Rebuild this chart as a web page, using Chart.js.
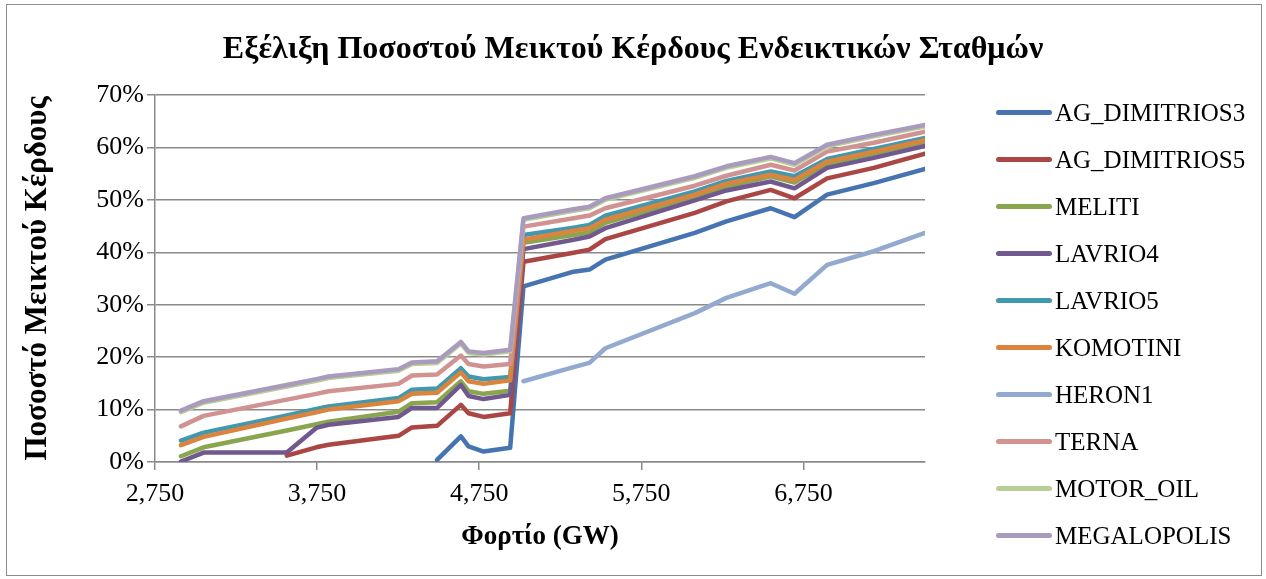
<!DOCTYPE html>
<html>
<head>
<meta charset="utf-8">
<script src="https://cdn.jsdelivr.net/npm/chart.js@4"></script>
<style>
  body { margin: 0; background: #fff; }
  #wrap { position: relative; width: 1266px; height: 579px; }
  #frame { position: absolute; left: 6px; top: 4px; width: 1254px; height: 570px; border: 1px solid #8c8c8c; }
  canvas { position: absolute; left: 0; top: 0; }
  #title { position: absolute; left: 0; top: 28px; width: 1266px; text-align: center; line-height: 38px;
           font-family: "Liberation Serif", serif; font-size: 32px; font-weight: bold; color: #000; }
  #legend { position: absolute; left: 996px; top: 89px; font-family: "Liberation Serif", serif; font-size: 25px; color: #000; }
  .item { height: 47px; display: flex; align-items: center; }
  .swatch { width: 56px; height: 5px; border-radius: 3px; margin-right: 3px; }
</style>
</head>
<body>
<div id="wrap">
  <div id="frame"></div>
  <canvas id="chart" width="1266" height="579"></canvas>
  <div id="title">Εξέλιξη Ποσοστού Μεικτού Κέρδους Ενδεικτικών Σταθμών</div>
  <div id="legend"></div>
</div>
<script>
const load = [2910, 3050, 3563, 3745, 3820, 4252, 4335, 4490, 4637, 4684, 4777, 4941, 5023, 5332, 5430, 5528, 6080, 6275, 6548, 6695, 6896, 7184, 7500];
const xTicks = [2750, 3750, 4750, 5750, 6750];

const agDimitrios3 = [null, null, null, null, null, null, null, 0.4, 4.9, 3.0, 2.0, 2.7, 33.5, 36.3, 36.7, 38.6, 43.7, 45.9, 48.4, 46.7, 51.0, 53.2, 55.9];
const agDimitrios5 = [null, null, 1.2, 2.8, 3.3, 5.0, 6.6, 6.9, 10.9, 9.3, 8.6, 9.3, 38.2, 39.9, 40.5, 42.5, 47.5, 49.7, 51.9, 50.3, 54.1, 56.1, 58.8];
const meliti = [1.1, 2.8, 6.0, 7.2, 7.7, 9.6, 11.2, 11.4, 15.4, 13.5, 13.0, 13.6, 41.8, 43.3, 43.8, 45.6, 50.5, 52.5, 54.5, 53.3, 56.9, 58.8, 61.1];
const lavrio4 = [0.1, 1.8, 1.8, 6.5, 7.1, 8.6, 10.3, 10.3, 14.7, 12.6, 12.0, 12.8, 40.6, 42.4, 43.0, 44.6, 49.9, 51.8, 53.5, 52.2, 56.1, 58.0, 60.3];
const lavrio5 = [4.1, 5.6, 8.9, 10.1, 10.6, 12.2, 13.8, 14.0, 17.9, 16.3, 15.8, 16.2, 43.3, 44.7, 45.2, 47.0, 51.6, 53.6, 55.4, 54.5, 57.8, 59.7, 61.8];
const komotini = [3.2, 4.8, 8.3, 9.5, 10.0, 11.6, 13.0, 13.2, 17.1, 15.4, 14.9, 15.6, 42.4, 44.1, 44.6, 46.2, 51.0, 53.1, 54.8, 53.8, 57.3, 59.2, 61.4];
const heron1 = [null, null, null, null, null, null, null, null, null, null, null, null, 15.4, 18.1, 18.9, 21.7, 28.4, 31.3, 34.1, 32.1, 37.6, 40.2, 43.7];
const terna = [6.8, 8.8, 11.9, 13.0, 13.5, 14.9, 16.5, 16.7, 20.3, 18.7, 18.2, 18.7, 44.9, 46.5, 47.0, 48.4, 52.7, 54.6, 56.7, 55.6, 59.2, 60.9, 63.0];
const motorOil = [9.5, 11.3, 14.4, 15.5, 16.0, 17.4, 18.7, 18.9, 22.6, 20.8, 20.5, 21.1, 46.2, 47.9, 48.4, 50.0, 54.2, 56.1, 57.9, 56.7, 60.2, 62.1, 64.0];
const megalopolis = [9.8, 11.6, 14.7, 15.8, 16.3, 17.7, 19.0, 19.2, 22.9, 21.1, 20.8, 21.4, 46.5, 48.2, 48.7, 50.3, 54.5, 56.4, 58.2, 57.0, 60.5, 62.4, 64.3];

const names = ['AG_DIMITRIOS3', 'AG_DIMITRIOS5', 'MELITI', 'LAVRIO4', 'LAVRIO5', 'KOMOTINI', 'HERON1', 'TERNA', 'MOTOR_OIL', 'MEGALOPOLIS'];
const series = [agDimitrios3, agDimitrios5, meliti, lavrio4, lavrio5, komotini, heron1, terna, motorOil, megalopolis];
const colors = ['#4674b0', '#aa4643', '#89a54e', '#71588f', '#4198af', '#db843d', '#93a9cf', '#d19392', '#b9cd96', '#a99bbd'];

const serif = '"Liberation Serif", "DejaVu Serif", serif';
const gridColor = '#8a8a8a';

// legend as html
const legend = document.getElementById('legend');
names.forEach((n, i) => {
  const row = document.createElement('div');
  row.className = 'item';
  row.innerHTML = '<span class="swatch" style="background:' + colors[i] + '"></span><span>' + n + '</span>';
  legend.appendChild(row);
});

new Chart(document.getElementById('chart'), {
  type: 'line',
  data: {
    datasets: series.map((vals, i) => ({
      label: names[i],
      data: load.map((x, j) => ({ x: x, y: vals[j] })),
      borderColor: colors[i],
      backgroundColor: colors[i],
      borderWidth: 4.5,
      pointRadius: 0,
      tension: 0,
      order: series.length - 1 - i
    }))
  },
  options: {
    responsive: false,
    animation: false,
    layout: { padding: { left: 0, right: 341, top: 95, bottom: 0 } },
    elements: { line: { borderCapStyle: 'round', borderJoinStyle: 'round' } },
    plugins: {
      legend: { display: false },
      tooltip: { enabled: false }
    },
    scales: {
      x: {
        type: 'linear',
        min: 2750,
        max: 7500,
        afterBuildTicks: s => { s.ticks = xTicks.map(v => ({ value: v })); },
        afterFit: s => { s.height = 117; },
        ticks: {
          color: '#000',
          font: { family: serif, size: 26 },
          padding: 9,
          maxRotation: 0,
          callback: v => v.toLocaleString('en-US')
        },
        grid: { drawOnChartArea: false, color: gridColor, lineWidth: 1.5, tickLength: 8 },
        border: { color: gridColor, width: 1.5 },
        title: {
          display: true,
          text: 'Φορτίο (GW)',
          color: '#000',
          font: { family: serif, size: 27, weight: 'bold' },
          padding: { top: 4, bottom: 26 }
        }
      },
      y: {
        min: 0,
        max: 70,
        afterFit: s => { s.width = 155; },
        ticks: {
          stepSize: 10,
          color: '#000',
          font: { family: serif, size: 26 },
          padding: 3,
          callback: v => v + '%'
        },
        grid: { color: gridColor, lineWidth: 1.5, tickLength: 8 },
        border: { color: gridColor, width: 1.5 },
        title: {
          display: true,
          text: 'Ποσοστό Μεικτού Κέρδους',
          color: '#000',
          font: { family: serif, size: 31, weight: 'bold' },
          padding: { top: 19, bottom: 4 }
        }
      }
    }
  }
});
</script>
</body>
</html>
